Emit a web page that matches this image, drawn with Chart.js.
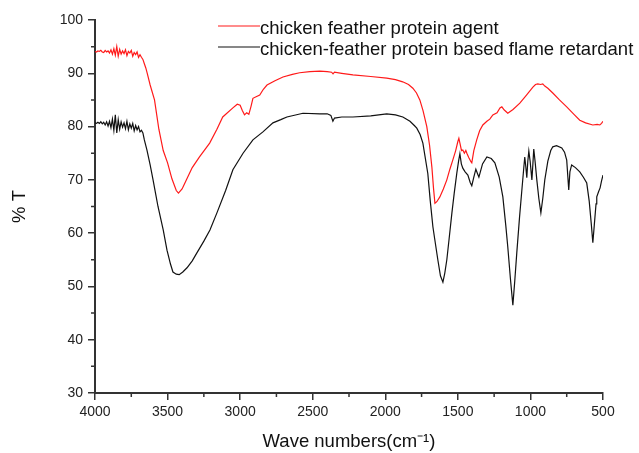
<!DOCTYPE html>
<html>
<head>
<meta charset="utf-8">
<script src="https://cdn.jsdelivr.net/npm/chart.js@4.4.1/dist/chart.umd.min.js"></script>
<style>
  html, body { margin: 0; padding: 0; background: #fff; }
  #wrap { width: 639px; height: 453px; }
</style>
</head>
<body>
<div id="wrap"><canvas id="ftir"></canvas></div>
<script>
const seriesLabels = ["chicken feather protein agent", "chicken-feather protein based flame retardant"];

const agentWn = [4000, 3990, 3980, 3970, 3960, 3950, 3940, 3930, 3920, 3910, 3900, 3890, 3880, 3870, 3860, 3850, 3840, 3830, 3820, 3810, 3800, 3790, 3780, 3770, 3760, 3750, 3740, 3730, 3720, 3710, 3700, 3690, 3680, 3670, 3660, 3650, 3640, 3620, 3590, 3560, 3530, 3500, 3470, 3440, 3425, 3400, 3370, 3330, 3280, 3210, 3160, 3120, 3050, 3020, 3000, 2985, 2970, 2955, 2940, 2925, 2912, 2890, 2865, 2840, 2815, 2760, 2705, 2640, 2590, 2520, 2450, 2400, 2370, 2360, 2350, 2300, 2223, 2100, 1990, 1930, 1880, 1840, 1810, 1785, 1762, 1740, 1714, 1695, 1679, 1668, 1658, 1645, 1624, 1600, 1576, 1555, 1535, 1515, 1500, 1493, 1485, 1475, 1466, 1455, 1445, 1438, 1425, 1410, 1404, 1390, 1370, 1350, 1328, 1300, 1280, 1259, 1230, 1210, 1197, 1180, 1156, 1120, 1073, 1030, 983, 965, 949, 930, 915, 901, 880, 846, 800, 750, 700, 660, 620, 570, 540, 522, 510, 500];
const agentT = [94.1, 94.0, 94.2, 94.1, 94.3, 94.0, 93.9, 94.3, 94.0, 94.2, 93.8, 94.4, 93.6, 94.6, 93.4, 95.0, 93.2, 94.5, 93.6, 94.2, 93.7, 94.4, 93.3, 94.1, 93.8, 94.3, 93.2, 93.9, 93.5, 94.0, 93.0, 93.5, 93.0, 92.6, 91.8, 91.0, 90.0, 87.8, 85.0, 79.5, 75.5, 73.2, 70.2, 68.0, 67.5, 68.3, 70.0, 72.3, 74.3, 76.9, 79.5, 81.8, 83.5, 84.2, 84.0, 83.0, 82.2, 82.6, 82.3, 83.8, 85.3, 85.6, 85.9, 87.0, 87.8, 88.6, 89.3, 89.8, 90.1, 90.3, 90.4, 90.3, 90.2, 89.9, 90.2, 90.0, 89.7, 89.4, 89.1, 88.8, 88.4, 87.9, 87.2, 86.3, 85.0, 83.0, 80.0, 76.5, 72.4, 68.5, 65.6, 65.9, 66.8, 68.3, 70.0, 72.0, 73.7, 75.5, 77.2, 77.8, 76.8, 75.5, 75.6, 75.0, 75.5, 75.0, 74.2, 73.4, 73.2, 75.5, 77.5, 79.2, 80.3, 81.0, 81.4, 82.2, 82.6, 83.5, 83.7, 83.1, 82.5, 83.2, 84.4, 85.8, 87.4, 87.9, 88.0, 87.9, 88.0, 87.6, 87.2, 86.3, 85.0, 83.7, 82.3, 81.2, 80.7, 80.3, 80.4, 80.3, 80.6, 81.0];

const retardantWn = [4000, 3990, 3980, 3970, 3960, 3950, 3940, 3930, 3920, 3910, 3900, 3890, 3880, 3870, 3860, 3850, 3840, 3830, 3820, 3810, 3800, 3790, 3780, 3770, 3760, 3750, 3740, 3730, 3720, 3710, 3700, 3690, 3680, 3670, 3660, 3642, 3620, 3600, 3585, 3566, 3530, 3504, 3480, 3463, 3440, 3420, 3395, 3366, 3330, 3298, 3250, 3208, 3160, 3100, 3050, 2980, 2912, 2843, 2774, 2720, 2678, 2567, 2450, 2400, 2375, 2361, 2350, 2300, 2223, 2100, 1990, 1930, 1879, 1830, 1800, 1783, 1760, 1741, 1707, 1690, 1672, 1660, 1638, 1620, 1603, 1590, 1576, 1560, 1541, 1525, 1507, 1495, 1486, 1476, 1466, 1450, 1431, 1415, 1404, 1390, 1376, 1365, 1355, 1330, 1300, 1270, 1245, 1215, 1190, 1170, 1156, 1138, 1121, 1108, 1094, 1075, 1059, 1045, 1039, 1032, 1025, 1018, 1011, 1002, 990, 983, 977, 968, 956, 942, 928, 915, 901, 880, 860, 846, 820, 784, 765, 750, 742, 736, 728, 716, 690, 660, 635, 612, 595, 580, 570, 560, 548, 543, 530, 520, 510, 500];
const retardantT = [80.7, 80.6, 80.8, 80.6, 80.9, 80.5, 80.8, 80.3, 80.9, 80.1, 81.0, 79.8, 81.4, 79.3, 82.2, 78.8, 81.3, 79.5, 80.9, 79.9, 80.7, 79.6, 81.0, 79.4, 80.5, 79.7, 80.6, 79.2, 80.2, 79.4, 80.0, 79.0, 79.3, 78.8, 77.5, 75.6, 72.8, 70.0, 67.8, 65.0, 60.6, 56.8, 54.2, 52.7, 52.3, 52.2, 52.7, 53.5, 54.8, 56.3, 58.5, 60.6, 63.8, 68.0, 71.9, 75.0, 77.5, 79.0, 80.7, 81.3, 81.8, 82.5, 82.4, 82.4, 82.1, 81.0, 81.6, 81.8, 81.8, 82.0, 82.4, 82.2, 81.8, 81.0, 80.2, 79.7, 78.5, 76.9, 71.2, 66.0, 61.2, 59.0, 55.0, 52.0, 50.8, 52.5, 55.0, 59.0, 63.8, 67.5, 71.3, 73.5, 74.9, 73.0, 72.2, 71.5, 70.9, 69.5, 68.9, 70.5, 72.0, 71.2, 70.5, 73.0, 74.3, 74.0, 73.2, 70.5, 66.8, 61.5, 57.4, 51.5, 46.5, 51.0, 56.3, 63.0, 68.1, 72.5, 74.3, 72.5, 70.4, 73.5, 75.4, 73.5, 70.0, 73.0, 75.8, 73.5, 70.0, 66.5, 63.8, 66.5, 70.0, 73.5, 75.5, 76.2, 76.4, 76.0, 75.2, 73.7, 70.5, 68.1, 71.5, 72.8, 72.3, 71.5, 70.5, 69.4, 66.0, 61.5, 58.2, 61.5, 65.5, 66.8, 67.8, 68.5, 69.8, 70.9];

const xTicks = [4000, 3500, 3000, 2500, 2000, 1500, 1000, 500];
const yTicks = [30, 40, 50, 60, 70, 80, 90, 100];
const xMinor = [3750, 3250, 2750, 2250, 1750, 1250, 750];
const yMinor = [35, 45, 55, 65, 75, 85, 95];

const axisColor = "#333";
const fontFamily = "'Liberation Sans', Arial, sans-serif";

function toPoints(xs, ys) {
  return xs.map((x, i) => ({ x: x, y: ys[i] }));
}

// little outward minor ticks
const minorTicks = {
  id: "minorTicks",
  afterDraw(chart) {
    const c = chart.ctx, xs = chart.scales.x, ys = chart.scales.y;
    const area = chart.chartArea;
    c.save();
    c.strokeStyle = axisColor;
    c.lineWidth = 1.5;
    c.beginPath();
    xMinor.forEach(v => {
      const px = xs.getPixelForValue(v);
      c.moveTo(px, area.bottom);
      c.lineTo(px, area.bottom + 4);
    });
    yMinor.forEach(v => {
      const py = ys.getPixelForValue(v);
      c.moveTo(area.left, py);
      c.lineTo(area.left - 4, py);
    });
    c.stroke();
    c.restore();
  }
};

// stacked legend in the top right
const lineLegend = {
  id: "lineLegend",
  afterDraw(chart) {
    const c = chart.ctx;
    c.save();
    c.font = "18.5px " + fontFamily;
    c.textBaseline = "alphabetic";
    chart.data.datasets.forEach((ds, i) => {
      const y = 26 + i * 21;
      c.strokeStyle = ds.borderColor;
      c.lineWidth = 1.2;
      c.beginPath();
      c.moveTo(218, y);
      c.lineTo(260, y);
      c.stroke();
      c.fillStyle = "#111";
      c.fillText(ds.label, 260, y + 8);
    });
    c.restore();
  }
};

const ctx = document.getElementById("ftir").getContext("2d");
const ftir = new Chart(ctx, {
  type: "line",
  data: {
    datasets: [
      {
        label: seriesLabels[0],
        data: toPoints(agentWn, agentT),
        borderColor: "#ff1a1a",
        borderWidth: 1.2,
        pointRadius: 0,
        tension: 0,
      },
      {
        label: seriesLabels[1],
        data: toPoints(retardantWn, retardantT),
        borderColor: "#111111",
        borderWidth: 1.2,
        pointRadius: 0,
        tension: 0,
      },
    ],
  },
  options: {
    responsive: true,
    maintainAspectRatio: false,
    animation: false,
    parsing: false,
    layout: { padding: { top: 20, right: 36, bottom: 0, left: 0 } },
    plugins: {
      legend: { display: false },
      tooltip: { enabled: false },
    },
    scales: {
      x: {
        type: "linear",
        reverse: true,
        min: 500,
        max: 4000,
        afterBuildTicks: s => { s.ticks = xTicks.map(v => ({ value: v })); },
        afterFit: s => { s.height = 60; },
        border: { color: axisColor, width: 2 },
        grid: { drawOnChartArea: false, drawTicks: true, tickLength: 7, color: axisColor, lineWidth: 1.5 },
        ticks: { color: "#222", padding: 4, maxRotation: 0, callback: v => String(v), font: { family: fontFamily, size: 14 } },
        title: {
          display: true,
          text: "Wave numbers(cm\u207B\u00B9)",
          color: "#111",
          font: { family: fontFamily, size: 18.5 },
          padding: { top: 1, bottom: 0 },
        },
      },
      y: {
        min: 30,
        max: 100,
        afterBuildTicks: s => { s.ticks = yTicks.map(v => ({ value: v })); },
        afterFit: s => { s.width = 95; },
        border: { color: axisColor, width: 2 },
        grid: { drawOnChartArea: false, drawTicks: true, tickLength: 7, color: axisColor, lineWidth: 1.5 },
        ticks: { color: "#222", padding: 5, callback: v => String(v), font: { family: fontFamily, size: 14 } },
        title: {
          display: true,
          text: "% T",
          color: "#111",
          font: { family: fontFamily, size: 18.5 },
          padding: { top: 9, bottom: 0 },
        },
      },
    },
  },
  plugins: [minorTicks, lineLegend],
});
</script>
</body>
</html>
